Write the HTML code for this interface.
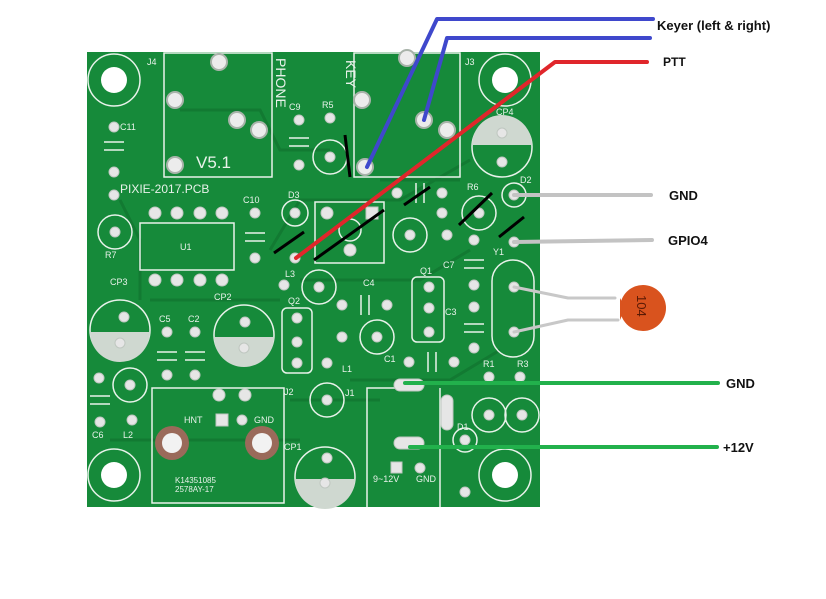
<!DOCTYPE html>
<html><head><meta charset="utf-8"><style>
html,body{margin:0;padding:0;background:#fff;width:826px;height:599px;overflow:hidden}
svg{display:block}
.s{fill:none;stroke:#e8f2ea;stroke-width:1.5}
.t{fill:#e8f2ea;font-family:"Liberation Sans",sans-serif;font-size:9px}
.p{fill:#e6e6e6;stroke:#bfc7c0;stroke-width:1}
.l{font-family:"Liberation Sans",sans-serif;font-weight:bold;font-size:13px;fill:#111}
</style></head><body>
<svg width="826" height="599" viewBox="0 0 826 599">
<rect x="87" y="52" width="453" height="455" fill="#168a3a"/>
<!-- traces -->
<g fill="none" stroke="#127a32" stroke-width="3">
<path d="M180 110 L260 110 L280 150 L330 150"/><path d="M120 200 L140 240 L140 300"/>
<path d="M270 250 L300 200 L400 200 L470 160"/><path d="M300 280 L420 280 L470 250"/>
<path d="M150 300 L280 300"/><path d="M350 380 L450 380 L500 350"/><path d="M110 440 L300 440"/>
<path d="M290 400 L380 400"/><path d="M380 180 L460 180"/>
</g>
<!-- corner holes -->
<g>
<circle cx="114" cy="80" r="26" class="s"/><circle cx="114" cy="80" r="13" fill="#fff"/>
<circle cx="505" cy="80" r="26" class="s"/><circle cx="505" cy="80" r="13" fill="#fff"/>
<circle cx="114" cy="475" r="26" class="s"/><circle cx="114" cy="475" r="13" fill="#fff"/>
<circle cx="505" cy="475" r="26" class="s"/><circle cx="505" cy="475" r="13" fill="#fff"/>
</g>
<!-- outlines -->
<rect x="164" y="53" width="108" height="124" class="s"/>
<rect x="354" y="53" width="106" height="124" class="s"/>
<rect x="140" y="223" width="94" height="47" class="s"/>
<rect x="315" y="202" width="69" height="61" class="s"/>
<circle cx="350" cy="230" r="11" class="s"/>
<rect x="412" y="277" width="32" height="65" rx="5" class="s"/>
<rect x="282" y="308" width="30" height="65" rx="5" class="s"/>
<rect x="492" y="260" width="42" height="97" rx="21" class="s"/>
<rect x="152" y="388" width="132" height="115" class="s"/>
<path d="M367 507 L367 388 L400 388 M440 388 L440 507" class="s"/>
<!-- electrolytics -->
<g>
<circle cx="120" cy="330" r="30" class="s"/><path d="M90 332 A30 30 0 0 0 150 332 Z" fill="#cfd8d0"/>
<circle cx="244" cy="335" r="30" class="s"/><path d="M214 337 A30 30 0 0 0 274 337 Z" fill="#cfd8d0"/>
<circle cx="502" cy="147" r="30" class="s"/><path d="M472 145 A30 30 0 0 1 532 145 Z" fill="#cfd8d0"/>
<circle cx="325" cy="477" r="30" class="s"/><path d="M295 479 A30 30 0 0 0 355 479 Z" fill="#cfd8d0"/>
</g>
<!-- resistor circles -->
<g class="s">
<circle cx="115" cy="232" r="17"/><circle cx="330" cy="157" r="17"/><circle cx="295" cy="213" r="13"/>
<circle cx="319" cy="287" r="17"/><circle cx="410" cy="235" r="17"/><circle cx="479" cy="213" r="17"/>
<circle cx="514" cy="195" r="12"/><circle cx="377" cy="337" r="17"/><circle cx="130" cy="385" r="17"/>
<circle cx="327" cy="400" r="17"/><circle cx="489" cy="415" r="17"/><circle cx="522" cy="415" r="17"/>
<circle cx="465" cy="440" r="12"/>
</g>
<!-- big holes -->
<g fill="#ececec" stroke="#a9b3aa" stroke-width="2">
<circle cx="219" cy="62" r="8"/><circle cx="175" cy="100" r="8"/><circle cx="237" cy="120" r="8"/>
<circle cx="259" cy="130" r="8"/><circle cx="175" cy="165" r="8"/><circle cx="362" cy="100" r="8"/>
<circle cx="407" cy="58" r="8"/><circle cx="424" cy="120" r="8"/><circle cx="447" cy="130" r="8"/>
<circle cx="365" cy="167" r="8"/>
</g>
<circle cx="172" cy="443" r="17" fill="#9a6a5a"/><circle cx="172" cy="443" r="10" fill="#f2f2f2"/>
<circle cx="262" cy="443" r="17" fill="#9a6a5a"/><circle cx="262" cy="443" r="10" fill="#f2f2f2"/>
<!-- small pads -->
<g class="p">
<circle cx="114" cy="127" r="5"/><circle cx="114" cy="172" r="5"/><circle cx="114" cy="195" r="5"/><circle cx="115" cy="232" r="5"/>
<circle cx="155" cy="213" r="6"/><circle cx="177" cy="213" r="6"/><circle cx="200" cy="213" r="6"/><circle cx="222" cy="213" r="6"/>
<circle cx="155" cy="280" r="6"/><circle cx="177" cy="280" r="6"/><circle cx="200" cy="280" r="6"/><circle cx="222" cy="280" r="6"/>
<circle cx="299" cy="120" r="5"/><circle cx="299" cy="165" r="5"/><circle cx="330" cy="118" r="5"/><circle cx="330" cy="157" r="5"/>
<circle cx="255" cy="213" r="5"/><circle cx="255" cy="258" r="5"/><circle cx="295" cy="213" r="5"/><circle cx="295" cy="258" r="5"/>
<circle cx="327" cy="213" r="6"/><rect x="366" y="207" width="12" height="12"/><circle cx="350" cy="250" r="6"/>
<circle cx="284" cy="285" r="5"/><circle cx="319" cy="287" r="5"/>
<circle cx="397" cy="193" r="5"/><circle cx="442" cy="193" r="5"/><circle cx="442" cy="213" r="5"/><circle cx="410" cy="235" r="5"/><circle cx="447" cy="235" r="5"/>
<circle cx="479" cy="213" r="5"/><circle cx="514" cy="195" r="5"/><circle cx="514" cy="242" r="5"/>
<circle cx="474" cy="240" r="5"/><circle cx="474" cy="285" r="5"/><circle cx="474" cy="307" r="5"/><circle cx="474" cy="348" r="5"/>
<circle cx="514" cy="287" r="5"/><circle cx="514" cy="332" r="5"/>
<circle cx="429" cy="287" r="5"/><circle cx="429" cy="308" r="5"/><circle cx="429" cy="332" r="5"/>
<circle cx="342" cy="305" r="5"/><circle cx="387" cy="305" r="5"/><circle cx="342" cy="337" r="5"/><circle cx="377" cy="337" r="5"/>
<circle cx="297" cy="318" r="5"/><circle cx="297" cy="342" r="5"/><circle cx="297" cy="363" r="5"/>
<circle cx="124" cy="317" r="5"/><circle cx="120" cy="343" r="5"/><circle cx="245" cy="322" r="5"/><circle cx="244" cy="348" r="5"/>
<circle cx="502" cy="133" r="5"/><circle cx="502" cy="162" r="5"/><circle cx="327" cy="458" r="5"/><circle cx="325" cy="483" r="5"/>
<circle cx="167" cy="332" r="5"/><circle cx="167" cy="375" r="5"/><circle cx="195" cy="332" r="5"/><circle cx="195" cy="375" r="5"/>
<circle cx="99" cy="378" r="5"/><circle cx="100" cy="422" r="5"/><circle cx="130" cy="385" r="5"/><circle cx="132" cy="420" r="5"/>
<circle cx="327" cy="363" r="5"/><circle cx="327" cy="400" r="5"/><circle cx="409" cy="362" r="5"/><circle cx="454" cy="362" r="5"/>
<circle cx="489" cy="377" r="5"/><circle cx="489" cy="415" r="5"/><circle cx="520" cy="377" r="5"/><circle cx="522" cy="415" r="5"/>
<rect x="394" y="379" width="30" height="12" rx="6"/><rect x="441" y="395" width="12" height="35" rx="6"/><rect x="394" y="437" width="30" height="12" rx="6"/>
<rect x="391" y="462" width="11" height="11"/><circle cx="420" cy="468" r="5"/>
<circle cx="465" cy="440" r="5"/><circle cx="465" cy="492" r="5"/>
<circle cx="219" cy="395" r="6"/><circle cx="245" cy="395" r="6"/><rect x="216" y="414" width="12" height="12"/><circle cx="242" cy="420" r="5"/>
</g>
<!-- capacitor symbols -->
<g stroke="#e8f2ea" stroke-width="1.5">
<path d="M104 142 H124 M104 150 H124"/><path d="M289 138 H309 M289 146 H309"/><path d="M245 233 H265 M245 241 H265"/>
<path d="M157 352 H177 M157 360 H177 M185 352 H205 M185 360 H205"/><path d="M464 260 H484 M464 268 H484 M464 324 H484 M464 332 H484"/>
<path d="M361 295 V315 M369 295 V315"/><path d="M428 352 V372 M436 352 V372"/><path d="M416 183 V203 M424 183 V203"/>
<path d="M90 396 H110 M90 404 H110"/>
</g>
<!-- text -->
<text x="196" y="168" style="fill:#e8f2ea;font-family:'Liberation Sans',sans-serif;font-size:17px">V5.1</text>
<text x="120" y="193" class="t" style="font-size:12px">PIXIE-2017.PCB</text>
<text transform="translate(276,58) rotate(90)" class="t" style="font-size:14px">PHONE</text>
<text transform="translate(346,60) rotate(90)" class="t" style="font-size:14px">KEY</text>
<g class="t">
<text x="147" y="65">J4</text><text x="465" y="65">J3</text><text x="120" y="130">C11</text><text x="105" y="258">R7</text>
<text x="180" y="250">U1</text><text x="289" y="110">C9</text><text x="322" y="108">R5</text><text x="243" y="203">C10</text>
<text x="288" y="198">D3</text><text x="285" y="277">L3</text><text x="288" y="304">Q2</text><text x="363" y="286">C4</text>
<text x="420" y="274">Q1</text><text x="445" y="315">C3</text><text x="443" y="268">C7</text><text x="467" y="190">R6</text>
<text x="520" y="183">D2</text><text x="493" y="255">Y1</text><text x="384" y="362">C1</text><text x="483" y="367">R1</text>
<text x="517" y="367">R3</text><text x="342" y="372">L1</text><text x="345" y="396">J1</text><text x="110" y="285">CP3</text>
<text x="214" y="300">CP2</text><text x="159" y="322">C5</text><text x="188" y="322">C2</text><text x="92" y="438">C6</text>
<text x="123" y="438">L2</text><text x="284" y="395">J2</text><text x="184" y="423">HNT</text><text x="254" y="423">GND</text>
<text x="284" y="450">CP1</text><text x="457" y="430">D1</text><text x="373" y="482">9~12V</text><text x="416" y="482">GND</text>
<text x="175" y="483" style="font-size:8px">K14351085</text><text x="175" y="492" style="font-size:8px">2578AY-17</text>
<text x="496" y="115">CP4</text>
</g>
<!-- black marks -->
<g stroke="#000" stroke-width="3">
<path d="M345 135 L350 177"/><path d="M274 253 L304 232"/><path d="M314 260 L384 210"/>
<path d="M404 205 L430 187"/><path d="M459 225 L492 193"/><path d="M499 237 L524 217"/>
</g>
<!-- wires -->
<g fill="none" stroke-linecap="round" stroke-linejoin="round">
<path d="M367 167 L437 19 L653 19" stroke="#3f48cc" stroke-width="4"/>
<path d="M424 120 L447 38 L650 38" stroke="#3f48cc" stroke-width="4"/>
<path d="M296 258 L555 62 L647 62" stroke="#e0262b" stroke-width="4"/>
<path d="M514 195 L651 195" stroke="#c3c3c3" stroke-width="4"/>
<path d="M514 242 L652 240" stroke="#c3c3c3" stroke-width="4"/>
<path d="M514 287 L568 298 L615 298" stroke="#c8c8c8" stroke-width="3"/>
<path d="M514 332 L568 320 L618 320" stroke="#c8c8c8" stroke-width="3"/>
<path d="M405 383 L718 383" stroke="#22b14c" stroke-width="4"/>
<path d="M410 447 L717 447" stroke="#22b14c" stroke-width="4"/>
</g>
<circle cx="643" cy="308" r="23" fill="#d9531e"/>
<path d="M620 298 Q626 308 620 320" fill="#d9531e"/>
<text transform="translate(637,295) rotate(90)" style="font-family:'Liberation Sans',sans-serif;font-size:13px;fill:#5a1a05">104</text>
<text x="657" y="30" class="l">Keyer (left &amp; right)</text>
<text x="663" y="66" class="l" style="font-size:12px">PTT</text>
<text x="669" y="200" class="l">GND</text>
<text x="668" y="245" class="l">GPIO4</text>
<text x="726" y="388" class="l">GND</text>
<text x="723" y="452" class="l">+12V</text>
</svg>
</body></html>
